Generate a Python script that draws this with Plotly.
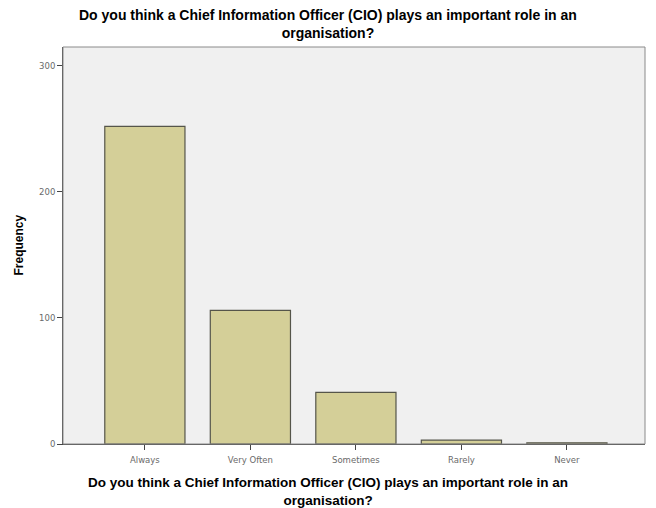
import plotly.graph_objects as go

categories = ["Always", "Very Often", "Sometimes", "Rarely", "Never"]
frequency = [252, 106, 41, 3, 1]
y_ticks = [0, 100, 200, 300]

title_text = "Do you think a Chief Information Officer (CIO) plays an important role in an<br>organisation?"

# the page body adds an 8px margin, so the figure is sized to fit inside the window
W, H = 648, 500
L, R, T, B = 55, 11, 39, 64

fig = go.Figure()
fig.add_trace(go.Bar(
    x=categories,
    y=frequency,
    marker=dict(color="#d4cf98", line=dict(color="#55554a", width=1.2)),
    width=0.76,
))

fig.update_layout(
    width=W, height=H,
    margin=dict(l=L, r=R, t=T, b=B, autoexpand=False),
    paper_bgcolor="white",
    plot_bgcolor="#f0f0f0",
    font=dict(family="DejaVu Sans, sans-serif", color="#222"),
    showlegend=False,
    bargap=0.24,
)

fig.update_xaxes(
    type="category",
    range=[-0.776, 4.74],
    automargin=False,
    showgrid=False,
    showline=True, linecolor="#444", linewidth=1,
    ticks="outside", ticklen=5, tickcolor="#444",
    ticklabelstandoff=3,
    tickfont=dict(size=8.5, color="#6a6a6a"),
)
fig.update_yaxes(
    range=[0, 315],
    tickvals=y_ticks,
    automargin=False,
    showgrid=False, zeroline=False,
    showline=True, linecolor="#444", linewidth=1,
    ticks="outside", ticklen=5, tickcolor="#444",
    tickfont=dict(size=8.5, color="#6a6a6a"),
)

plot_w = W - L - R
page_cx = (W / 2 - 4 - L) / plot_w
bold_font = "Liberation Sans, Arial, sans-serif"
# title, centred on the page
fig.add_annotation(text="<b>" + title_text + "</b>", xref="paper", yref="paper",
                   x=page_cx, y=1, yshift=23, xanchor="center", yanchor="middle",
                   showarrow=False, font=dict(family=bold_font, size=14, color="#000"))
# x axis title
fig.add_annotation(text="<b>" + title_text + "</b>", xref="paper", yref="paper",
                   x=page_cx, y=0, yshift=-47, xanchor="center", yanchor="middle",
                   showarrow=False, font=dict(family=bold_font, size=13.5, color="#000"))
# y axis title
fig.add_annotation(text="<b>Frequency</b>", xref="paper", yref="paper",
                   x=0, xshift=-45, y=0.5, xanchor="center", yanchor="middle",
                   textangle=-90, showarrow=False, font=dict(family=bold_font, size=12, color="#000"))

# plot frame
fig.add_shape(type="rect", xref="paper", yref="paper", x0=0, y0=0, x1=1, y1=1,
              line=dict(color="#8a8a8a", width=1))

fig.write_html("out.html")
